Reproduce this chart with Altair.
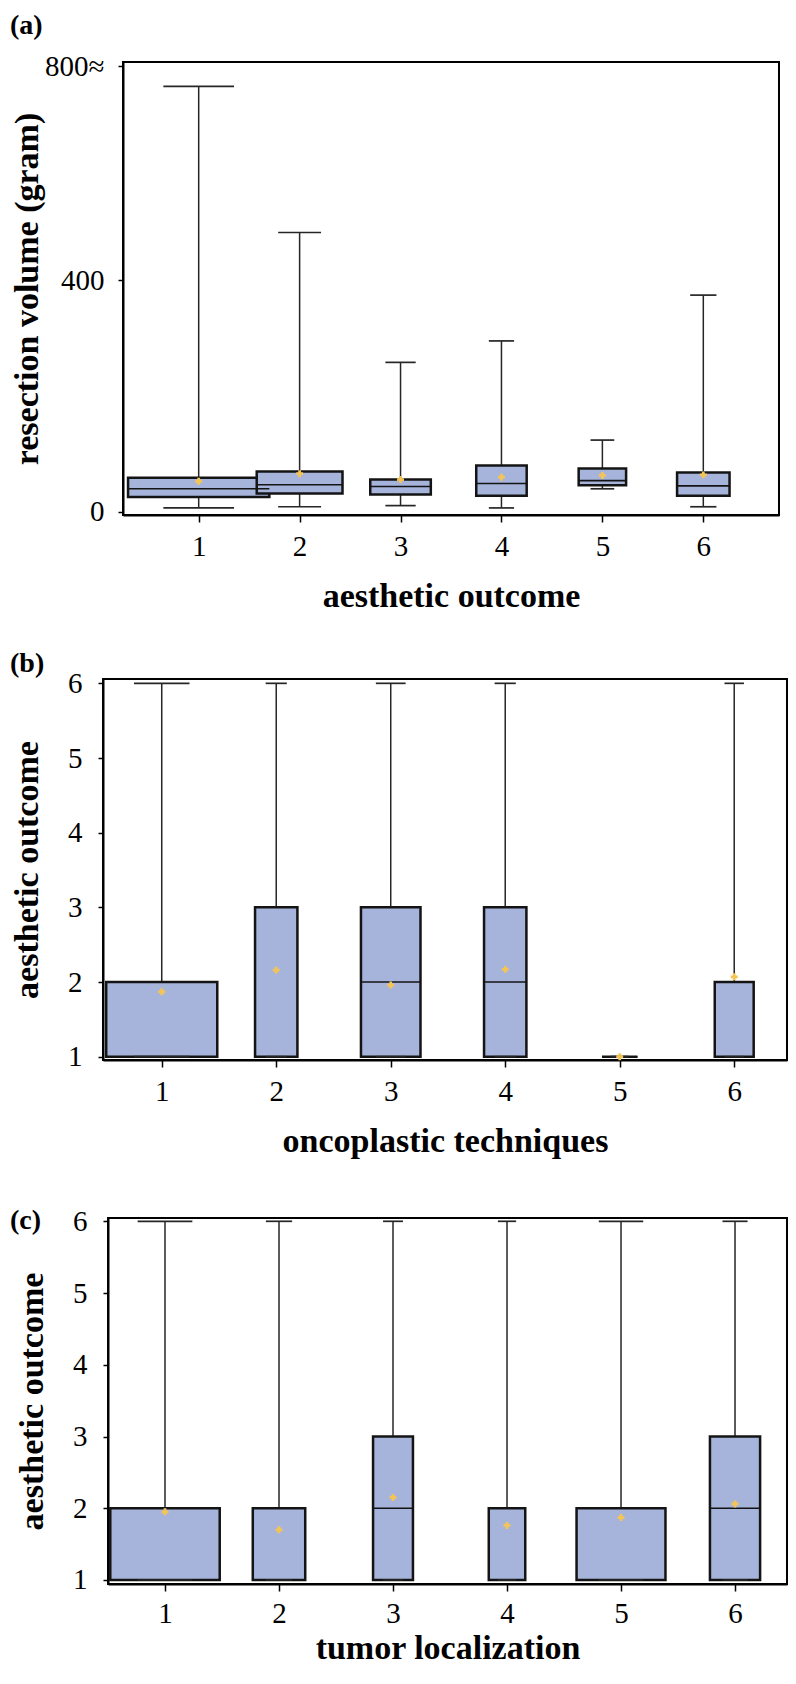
import altair as alt
import pandas as pd

cats = [1, 2, 3, 4, 5, 6]

# (a) resection volume (gram) by aesthetic outcome
a_low = [7, 9, 11, 7, 40, 9]
a_q1 = [26, 32, 30, 28, 46, 28]
a_med = [40, 47, 44, 49, 54, 45]
a_q3 = [59, 70, 56, 80, 75, 68]
a_high = [734, 482, 258, 295, 124, 374]
a_mean = [53, 66, 56, 60, 63, 64]
a_width = [1.40, 0.85, 0.60, 0.50, 0.47, 0.52]
a_ticks = [0, 400, 769]
a_tick_labels = ["0", "400", "800\u2248"]

# (b) aesthetic outcome by oncoplastic technique
b_low = [1, 1, 1, 1, 1, 1]
b_q1 = [1, 1, 1, 1, 1, 1]
b_med = [1, 1, 2, 2, 1, 1]
b_q3 = [2, 3, 3, 3, 1, 2]
b_high = [6, 6, 6, 6, 1, 6]
b_mean = [1.87, 2.16, 1.96, 2.17, 1.0, 2.07]
b_width = [0.97, 0.37, 0.52, 0.37, 0.31, 0.34]

# (c) aesthetic outcome by tumor localization
c_low = [1, 1, 1, 1, 1, 1]
c_q1 = [1, 1, 1, 1, 1, 1]
c_med = [1, 1, 2, 1, 1, 2]
c_q3 = [2, 2, 3, 2, 2, 3]
c_high = [6, 6, 6, 6, 6, 6]
c_mean = [1.95, 1.70, 2.15, 1.76, 1.87, 2.06]
c_width = [0.96, 0.46, 0.35, 0.32, 0.78, 0.44]

score_ticks = [1, 2, 3, 4, 5, 6]
score_labels = ["1", "2", "3", "4", "5", "6"]

BOX_FILL = "#a6b4dc"
BOX_STROKE = "#141414"
WHISKER = "#262626"
MEAN_COLOR = "#f3c456"
SERIF = "Liberation Serif"


def label_expr(vals, labels):
    parts = []
    for v, l in zip(vals, labels):
        parts.append(f"datum.value == {v} ? '{l}' : ")
    return "".join(parts) + "''"


def panel(tag, low, q1, med, q3, high, mean, bw, xdom, ydom, w, h,
          xtitle, ytitle, yvals, ylabels, ylabelpad, ytitlepad,
          xlabelpad, xtitlepad, tag_x, tag_y, top_gap):
    df = pd.DataFrame({"cat": cats, "low": low, "q1": q1, "med": med,
                       "q3": q3, "high": high, "mean": mean, "bw": bw})
    xscale = alt.Scale(domain=xdom, nice=False, zero=False)
    yscale = alt.Scale(domain=ydom, nice=False, zero=False)
    xaxis = alt.Axis(values=cats, format="d", title=xtitle, labelFlush=False,
                     tickSize=7, labelPadding=xlabelpad, titlePadding=xtitlepad,
                     titleBaseline="alphabetic", grid=False)
    yaxis = alt.Axis(values=yvals, labelExpr=label_expr(yvals, ylabels),
                     title=ytitle, tickSize=5, labelPadding=ylabelpad,
                     titlePadding=ytitlepad, grid=False)

    def X(f):
        return alt.X(f, type="quantitative", scale=xscale, axis=xaxis)

    def Y(f):
        return alt.Y(f, type="quantitative", scale=yscale, axis=yaxis)

    base = alt.Chart(df).transform_calculate(
        x_lo="datum.cat - datum.bw / 2",
        x_hi="datum.cat + datum.bw / 2",
        c_lo="datum.cat - datum.bw / 4",
        c_hi="datum.cat + datum.bw / 4",
    )
    w_up = base.mark_rule(color=WHISKER, strokeWidth=1.5).encode(
        x=X("cat"), y=Y("q3"), y2="high")
    w_dn = base.mark_rule(color=WHISKER, strokeWidth=1.5).encode(
        x=X("cat"), y=Y("low"), y2="q1")
    box = base.mark_rect(fill=BOX_FILL, stroke=BOX_STROKE, strokeWidth=2.5).encode(
        x=X("x_lo"), x2="x_hi", y=Y("q1"), y2="q3")
    median = base.mark_rule(color=BOX_STROKE, strokeWidth=1.6).encode(
        x=X("x_lo"), x2="x_hi", y=Y("med"))
    cap_up = base.mark_rule(color=WHISKER, strokeWidth=1.7).encode(
        x=X("c_lo"), x2="c_hi", y=Y("high"))
    cap_dn = base.mark_rule(color=WHISKER, strokeWidth=1.7).encode(
        x=X("c_lo"), x2="c_hi", y=Y("low"))
    mean_pt = base.mark_point(shape="cross", filled=True, color=MEAN_COLOR,
                              size=48, opacity=1).encode(
        x=X("cat"), y=Y("mean"))
    tag_layer = alt.Chart(pd.DataFrame({"t": [tag]})).mark_text(
        align="left", baseline="alphabetic", font=SERIF, fontSize=28,
        fontWeight="bold", color="black").encode(
        x=alt.value(tag_x), y=alt.value(tag_y), text="t:N")
    spacer = alt.Chart(pd.DataFrame({"s": [0]})).mark_rule(
        opacity=0, strokeWidth=0).encode(
        x=alt.value(w * 0.4), x2=alt.value(w * 0.6), y=alt.value(-top_gap))
    layered = alt.layer(w_up, w_dn, box, median, cap_up, cap_dn, mean_pt,
                        tag_layer, spacer).properties(
        width=w, height=h,
        view=alt.ViewBackground(stroke="black", strokeWidth=2))
    pin = alt.Chart(pd.DataFrame({"p": [0]})).mark_rule(
        opacity=0, strokeWidth=0).encode(
        x=alt.value(0), x2=alt.value(1), y=alt.value(0)).properties(
        width=1, height=1)
    return alt.hconcat(pin, layered, spacing=0)


pa = panel("(a)", a_low, a_q1, a_med, a_q3, a_high, a_mean, a_width,
           [0.25, 6.75], [-5.2, 776], 656, 453,
           "aesthetic outcome", "resection volume (gram)",
           a_ticks, a_tick_labels, 14, 0, 10, 45, -113, -28, 53)
pb = panel("(b)", b_low, b_q1, b_med, b_q3, b_high, b_mean, b_width,
           [0.487, 6.461], [0.956, 6.058], 684, 381,
           "oncoplastic techniques", "aesthetic outcome",
           score_ticks, score_labels, 16, 23, 10, 45, -93, -7, 64)
pc = panel("(c)", c_low, c_q1, c_med, c_q3, c_high, c_mean, c_width,
           [0.5, 6.456], [0.944, 6.046], 679, 366,
           "tumor localization", "aesthetic outcome",
           score_ticks, score_labels, 16, 23, 8, 30, -98, 11, 58)

chart = alt.vconcat(pa, pb, pc, spacing=0).properties(
    padding=0
).configure_view(
    strokeWidth=0
).configure_axis(
    domainColor="black", domainWidth=2, tickColor="black", tickWidth=1.5,
    labelColor="black", titleColor="black", labelFont=SERIF,
    titleFont=SERIF, labelFontSize=29, titleFontSize=34,
    titleFontWeight="bold"
)

chart.save("out.html", embed_options={"renderer": "svg", "actions": False})
